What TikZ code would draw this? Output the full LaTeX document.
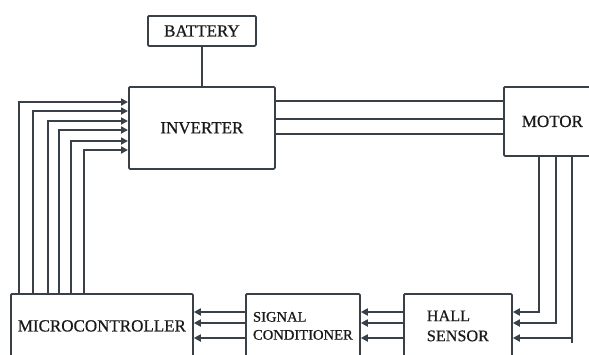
\documentclass[tikz,border=0pt]{standalone}
\usepackage{fontspec}
\setmainfont{Liberation Serif}[UprightFeatures={FakeBold=0.6}]
\usetikzlibrary{arrows.meta}
\definecolor{ln}{HTML}{3A4048}
\tikzset{
  box/.style={draw=ln, line width=1.8pt, rounded corners=1.2pt, inner sep=0pt, anchor=north west, fill=white, text=black!90},
  wire/.style={draw=ln, line width=1.8pt},
  arr/.style={wire, -{Triangle[length=7pt,width=7pt]}},
  big/.style={font=\fontsize{17}{20}\selectfont},
}
\begin{document}
\begin{tikzpicture}[x=1pt,y=-1pt]
\useasboundingbox (0,0) rectangle (589,354);
\clip (0,0) rectangle (589,354);
% boxes
\node[box, big, minimum width=108pt, minimum height=30pt] (bat) at (147,15) {BATTERY};
\node[box, big, minimum width=146pt, minimum height=82pt] (inv) at (128,86) {\raisebox{-5pt}{INVERTER}};
\node[box, big, minimum width=97pt, minimum height=69pt] (mot) at (503,86) {\raisebox{-4pt}{MOTOR}};
\node[box, big, minimum width=182pt, minimum height=64pt] (mcu) at (10,293) {\raisebox{-2pt}{MICROCONTROLLER}};
\node[box, font=\fontsize{14.6}{18}\selectfont, align=left, minimum width=114pt, minimum height=64pt] (sig) at (245,293) {SIGNAL\\CONDITIONER};
\node[box, font=\fontsize{16.2}{20}\selectfont, align=left, minimum width=108pt, minimum height=64pt] (hall) at (403,293) {HALL\\SENSOR};
% battery to inverter
\draw[wire] (bat.south) -- (inv.north -| bat.south);
% inverter to motor
\foreach \y in {101,119,134}{
  \draw[wire] (inv.east |- 0,\y) -- (mot.west |- 0,\y);
}
% motor to hall sensor
\draw[arr] (mot.south -| 539,0) -- (539,312) -- (hall.east |- 0,312);
\draw[arr] (mot.south -| 556,0) -- (556,323) -- (hall.east |- 0,323);
\draw[wire] (mot.south -| 572,0) -- (572,343);
\draw[arr] (572,338) -- (hall.east |- 0,338);
% hall to signal conditioner, signal conditioner to microcontroller
\foreach \y in {312,323,338}{
  \draw[arr] (hall.west |- 0,\y) -- (sig.east |- 0,\y);
  \draw[arr] (sig.west |- 0,\y) -- (mcu.east |- 0,\y);
}
% microcontroller to inverter
\foreach \x/\y in {19/102,33/111,48/121,59/130,71/141,84/150}{
  \draw[arr] (mcu.north -| \x,0) -- (\x,\y) -- (inv.west |- 0,\y);
}
\end{tikzpicture}
\end{document}
